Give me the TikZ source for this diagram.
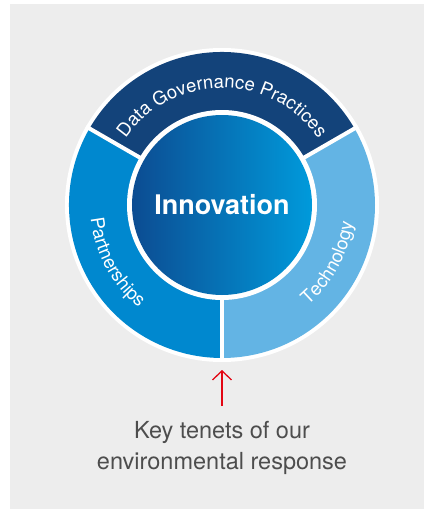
\documentclass[tikz,border=0pt]{standalone}
\usepackage{fontspec}
\setmainfont{TeX Gyre Heros}
\usepackage{tikz}
\usetikzlibrary{positioning,calc,decorations.text,arrows.meta}

\definecolor{panelgray}{HTML}{EDEDED}
\definecolor{navyseg}{HTML}{13437A}
\definecolor{midseg}{HTML}{0088CF}
\definecolor{lightseg}{HTML}{63B4E4}
\definecolor{innerleft}{HTML}{0C4C92}
\definecolor{innerright}{HTML}{009ADB}
\definecolor{tenetred}{HTML}{E30613}
\definecolor{captiongray}{HTML}{4D4D4D}

\begin{document}
\begin{tikzpicture}[x=1pt,y=1pt,
  divider/.style={white, line width=4pt},
  ringtext/.style={decorate, decoration={text along path, text align=center, text color=white,
    text={|\fontsize{18.5}{18.5}\selectfont|#1}}}]
% Panel
\useasboundingbox (-222,-304) rectangle (204,205);
\fill[panelgray] (-212,-304) rectangle (202,201);

% Ring
\fill[white] (0,0) circle (157);
\fill[navyseg] (0,0) -- (30:153) arc (30:150:153) -- cycle;
\fill[midseg] (0,0) -- (150:153) arc (150:270:153) -- cycle;
\fill[lightseg] (0,0) -- (270:153) arc (270:390:153) -- cycle;
\draw[divider] (0,0) -- (30:157);
\draw[divider] (0,0) -- (150:157);
\draw[divider] (0,0) -- (270:157);

% Core
\fill[white] (0,0) circle (95);
\shade[left color=innerleft, right color=innerright] (0,0) circle (90);
\node[white, font=\fontsize{27}{27}\selectfont\bfseries] (innov) at (0,0) {Innovation};

% Ring labels
\path[ringtext={Data Governance Practices}] (150:117) arc (150:30:117);
\path[ringtext={Partnerships}] (160:132) arc (160:257:132);
\path[ringtext={Technology}] (283:132) arc (283:380:132);

% Caption
\coordinate (ringbot) at (0,-165);
\coordinate (arrowfoot) at (0,-201);
\node[captiongray, align=center, font=\fontsize{23.5}{31}\selectfont, anchor=north] (caption) at (0,-213)
  {Key tenets of our\\environmental response};
\draw[tenetred, line width=1.3pt, -{Straight Barb[length=9pt,width=19pt]}] (arrowfoot) -- (ringbot);
\end{tikzpicture}
\end{document}
